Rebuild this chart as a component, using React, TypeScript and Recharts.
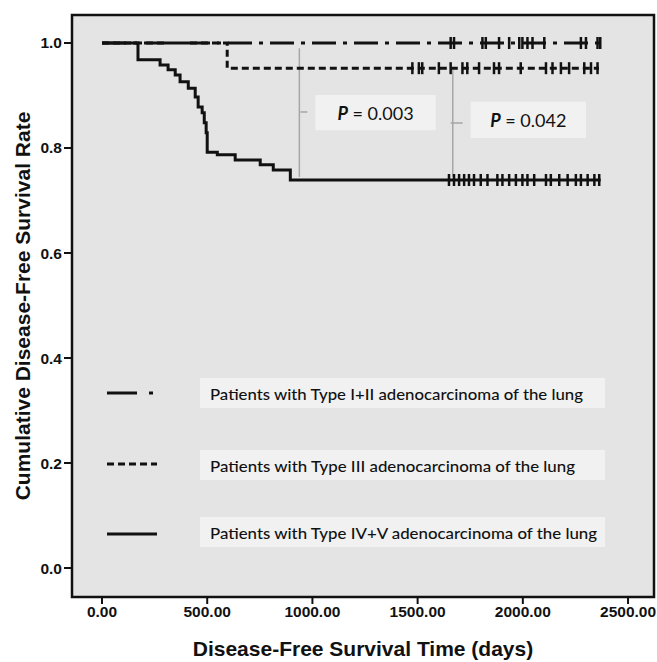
import React from 'react';
import {
  ComposedChart, Line, Scatter, XAxis, YAxis, CartesianGrid,
  ReferenceArea, ReferenceLine, Legend,
} from 'recharts';

// ---------- data ----------
const xTicks = [0, 500, 1000, 1500, 2000, 2500];
const yTicks = [0, 0.2, 0.4, 0.6, 0.8, 1.0];
const xDomain = [-142.6, 2623.4];
const yDomain = [-0.0552, 1.0533];

const groupNames = [
  'Patients with Type I+II adenocarcinoma of the lung',
  'Patients with Type III adenocarcinoma of the lung',
  'Patients with Type IV+V adenocarcinoma of the lung',
];

// survival steps (time in days, cumulative survival)
const survI_II = [
  { t: 0, s: 1.0 },
  { t: 2390, s: 1.0 },
];
const survIII = [
  { t: 0, s: 1.0 },
  { t: 595, s: 0.952 },
  { t: 2362, s: 0.952 },
];
const survIV_V = [
  { t: 0, s: 1.0 },
  { t: 171, s: 0.968 },
  { t: 276, s: 0.958 },
  { t: 314, s: 0.949 },
  { t: 348, s: 0.939 },
  { t: 371, s: 0.926 },
  { t: 410, s: 0.914 },
  { t: 443, s: 0.897 },
  { t: 457, s: 0.878 },
  { t: 476, s: 0.867 },
  { t: 486, s: 0.848 },
  { t: 495, s: 0.829 },
  { t: 500, s: 0.792 },
  { t: 548, s: 0.787 },
  { t: 633, s: 0.777 },
  { t: 752, s: 0.768 },
  { t: 814, s: 0.758 },
  { t: 895, s: 0.739 },
  { t: 2370, s: 0.739 },
];

// censored times
const censorI_II = [1657, 1673, 1808, 1824, 1887, 1935, 1983, 1998, 2022, 2046, 2102, 2276, 2300, 2355, 2368];
const censorIII = [1475, 1506, 1522, 1601, 1657, 1713, 1736, 1792, 1863, 1887, 1990, 2110, 2141, 2181, 2220, 2292, 2324, 2355];
const censorIV_V = [1649, 1673, 1697, 1721, 1744, 1768, 1800, 1832, 1879, 1903, 1935, 1967, 1998, 2022, 2054, 2110, 2133, 2173, 2213, 2252, 2276, 2308, 2340, 2363];

// p-value annotations
const pValues = ['0.003', '0.042'];
const pBoxes = [
  { x1: 1014, x2: 1586, y1: 0.834, y2: 0.901 },
  { x1: 1752, x2: 2300, y1: 0.819, y2: 0.888 },
];
const bracketLines = [
  { x: 938, y1: 0.99, y2: 0.745 },
  { x: 1667, y1: 0.949, y2: 0.745 },
];
const leaderTicks = [
  { x1: 943, x2: 976, y: 0.8686 },
  { x1: 1657, x2: 1714, y: 0.8476 },
];

// ---------- helpers ----------
const levelAt = (steps: { t: number; s: number }[], t: number) => {
  let s = steps[0].s;
  for (const p of steps) if (p.t <= t) s = p.s;
  return s;
};
const censorPts = (times: number[], steps: { t: number; s: number }[]) =>
  times.map((t) => ({ t, s: levelAt(steps, t) }));

const BG = '#e4e4e4';
const BOX = '#f1f1f1';
const AXIS_FONT = '"Liberation Sans", Arial, Helvetica, sans-serif';
const TEXT_FONT = 'Lato, "Open Sans", sans-serif';

const CensorMark = (props: any) => {
  const { cx, cy } = props;
  if (cx == null || cy == null) return null;
  return <line x1={cx} x2={cx} y1={cy - 6} y2={cy + 6} stroke="#111" strokeWidth={2.5} />;
};

const PLabel = (value: string) => (props: any) => {
  const vb = props.viewBox || {};
  const cx = vb.x + vb.width / 2;
  const cy = vb.y + vb.height / 2;
  return (
    <text x={cx} y={cy} textAnchor="middle" dominantBaseline="central" fontFamily={TEXT_FONT} fontSize={18} fill="#111">
      <tspan fontWeight="bold" fontStyle="italic">P</tspan>
      <tspan> = {value}</tspan>
    </text>
  );
};

const YLabel = (props: any) => {
  const vb = props.viewBox || {};
  const cy = vb.y + vb.height / 2;
  return (
    <text x={22} y={cy} transform={`rotate(-90, 22, ${cy})`} textAnchor="middle" dominantBaseline="central"
      fontFamily={AXIS_FONT} fontWeight="bold" fontSize={21} fill="#111">
      Cumulative Disease-Free Survival Rate
    </text>
  );
};

const XLabel = (props: any) => {
  const vb = props.viewBox || {};
  const cx = vb.x + vb.width / 2;
  return (
    <text x={cx} y={648} textAnchor="middle" dominantBaseline="central"
      fontFamily={AXIS_FONT} fontWeight="bold" fontSize={21} fill="#111">
      Disease-Free Survival Time (days)
    </text>
  );
};

const legendDash = ['24 7 4 7', '7 4', undefined];
const legendRows = [
  { ly: 23, by: 8, tw: 373 },
  { ly: 94, by: 80, tw: 365 },
  { ly: 164, by: 147, tw: 387 },
];

const LegendContent = () => (
  <svg width={520} height={185} style={{ display: 'block' }}>
    {groupNames.map((name, i) => {
      const r = legendRows[i];
      return (
        <g key={name}>
          <rect x={100} y={r.by} width={405} height={30} fill={BOX} />
          {i === 0 ? (
            <g>
              <line x1={7} x2={37} y1={r.ly} y2={r.ly} stroke="#111" strokeWidth={3} />
              <line x1={49} x2={53} y1={r.ly} y2={r.ly} stroke="#111" strokeWidth={3} />
            </g>
          ) : (
            <line x1={7} x2={57} y1={r.ly} y2={r.ly} stroke="#111" strokeWidth={3} strokeDasharray={legendDash[i]} />
          )}
          <text x={110} y={r.by + 15} dominantBaseline="central" fontFamily={TEXT_FONT} fontSize={16} fill="#111"
            fontWeight={500} textLength={r.tw} lengthAdjust="spacingAndGlyphs">
            {name}
          </text>
        </g>
      );
    })}
  </svg>
);

export default function App() {
  const tickStyle = { fontFamily: AXIS_FONT, fontWeight: 'bold', fontSize: 15.5, fill: '#111' } as any;
  return (
    <div style={{ position: 'absolute', left: 0, top: 0, width: 657, height: 662, background: '#fff' }}>
      <ComposedChart width={657} height={662} margin={{ top: 15, right: 3, bottom: 0, left: 0 }}>
        <CartesianGrid horizontal={false} vertical={false} fill={BG} />
        <XAxis
          dataKey="t" type="number" domain={xDomain} allowDataOverflow ticks={xTicks}
          tickFormatter={(v: number) => v.toFixed(2)} height={65}
          axisLine={false} tickSize={7} tickMargin={2} tickLine={{ stroke: '#111', strokeWidth: 2 }}
          tick={tickStyle} label={<XLabel />} interval={0}
        />
        <YAxis
          type="number" domain={yDomain} allowDataOverflow ticks={yTicks}
          tickFormatter={(v: number) => v.toFixed(1)} width={72}
          axisLine={false} tickSize={8} tickMargin={2} tickLine={{ stroke: '#111', strokeWidth: 2 }}
          tick={tickStyle} label={<YLabel />} interval={0}
        />
        {pBoxes.map((b, i) => (
          <ReferenceArea key={'pb' + i} x1={b.x1} x2={b.x2} y1={b.y1} y2={b.y2} fill={BOX} fillOpacity={1}
            stroke="none" label={PLabel(pValues[i])} />
        ))}
        {bracketLines.map((l, i) => (
          <ReferenceLine key={'bl' + i} segment={[{ x: l.x, y: l.y1 }, { x: l.x, y: l.y2 }]} stroke="#a6a6a6" strokeWidth={1.5} />
        ))}
        {leaderTicks.map((l, i) => (
          <ReferenceLine key={'lt' + i} segment={[{ x: l.x1, y: l.y }, { x: l.x2, y: l.y }]} stroke="#a6a6a6" strokeWidth={1.5} />
        ))}
        <Line data={survIV_V} dataKey="s" type="stepAfter" stroke="#111" strokeWidth={3} dot={false} activeDot={false} isAnimationActive={false} />
        <Line data={survIII} dataKey="s" type="stepAfter" stroke="#111" strokeWidth={3} strokeDasharray="7 4" dot={false} activeDot={false} isAnimationActive={false} />
        <Line data={survI_II} dataKey="s" type="stepAfter" stroke="#111" strokeWidth={3} strokeDasharray="24 7 4 7" dot={false} activeDot={false} isAnimationActive={false} />
        <Scatter data={censorPts(censorIV_V, survIV_V)} dataKey="s" shape={<CensorMark />} isAnimationActive={false} />
        <Scatter data={censorPts(censorIII, survIII)} dataKey="s" shape={<CensorMark />} isAnimationActive={false} />
        <Scatter data={censorPts(censorI_II, survI_II)} dataKey="s" shape={<CensorMark />} isAnimationActive={false} />
        <ReferenceArea x1={xDomain[0]} x2={xDomain[1]} y1={yDomain[0]} y2={yDomain[1]} fill="none" stroke="#111" strokeWidth={2.5} />
        <Legend layout="vertical" align="center" verticalAlign="middle" content={<LegendContent />}
          wrapperStyle={{ position: 'absolute', left: 100, top: 370, width: 520, height: 185 }} />
      </ComposedChart>
    </div>
  );
}
